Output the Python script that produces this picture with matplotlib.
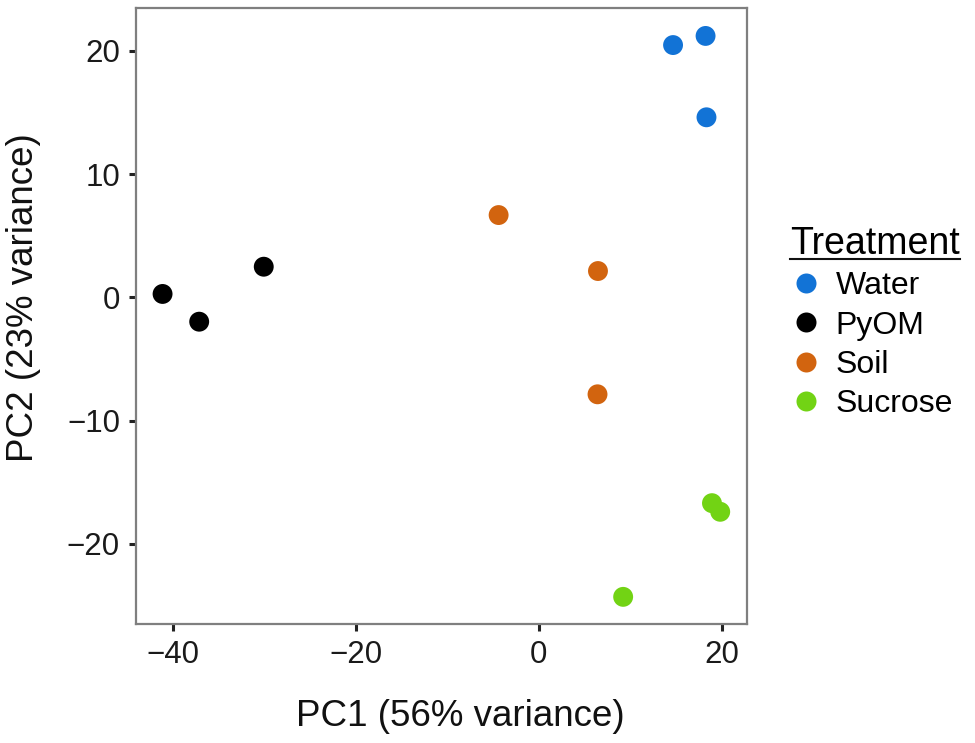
import matplotlib
matplotlib.use("Agg")
import matplotlib.pyplot as plt
from matplotlib.lines import Line2D

plt.rcParams['font.family'] = ['Liberation Sans', 'DejaVu Sans']

treatments = ["Water", "PyOM", "Soil", "Sucrose"]
colors = ["#1273d6", "#000000", "#d2640f", "#72d314"]
pc1 = {
    "Water": [14.65, 18.2, 18.3],
    "PyOM": [-41.1, -37.1, -30.05],
    "Soil": [-4.4, 6.45, 6.4],
    "Sucrose": [18.9, 19.8, 9.2],
}
pc2 = {
    "Water": [20.46, 21.2, 14.6],
    "PyOM": [0.27, -1.98, 2.48],
    "Soil": [6.67, 2.13, -7.87],
    "Sucrose": [-16.7, -17.4, -24.3],
}
xticks = [-40, -20, 0, 20]
yticks = [-20, -10, 0, 10, 20]
xlabel = "PC1 (56% variance)"
ylabel = "PC2 (23% variance)"
legend_title = "Treatment"

fig = plt.figure(figsize=(9.75, 7.43), dpi=100)
ax = fig.add_axes([0.1395, 0.1602, 0.7662 - 0.1395, 0.9888 - 0.1602])

for t, c in zip(treatments, colors):
    ax.scatter(pc1[t], pc2[t], s=205, color=c, edgecolors='none', zorder=3)

ax.set_xlim(-44.0, 22.73)
ax.set_ylim(-26.5, 23.44)
ax.set_xticks(xticks)
ax.set_yticks(yticks)
ax.set_xticklabels([str(v).replace('-', '\u2212') for v in xticks])
ax.set_yticklabels([str(v).replace('-', '\u2212') for v in yticks])
ax.tick_params(axis='both', length=5, width=2.2, color='#222222', pad=6.5,
               labelsize=22.5, labelcolor='#1a1a1a')
for sp in ax.spines.values():
    sp.set_color('#7f7f7f')
    sp.set_linewidth(1.6)

ax.set_xlabel(xlabel, fontsize=26.5, color='#111111')
ax.set_ylabel(ylabel, fontsize=26.5, color='#111111')
ax.xaxis.set_label_coords(0.53, -0.122)
ax.yaxis.set_label_coords(-0.155, 0.53)

handles = [Line2D([0], [0], marker='o', linestyle='none', markersize=14.4,
                  markerfacecolor=c, markeredgecolor='none') for c in colors]
leg = fig.legend(handles, treatments, loc='upper left',
                 bbox_to_anchor=(790 / 975, 1 - 226 / 743),
                 frameon=False, fontsize=23, title=legend_title,
                 title_fontsize=27, handletextpad=0.42, labelspacing=0.29,
                 handlelength=1.0, borderpad=0.0, borderaxespad=0.0)
leg._legend_box.align = "left"

fig.canvas.draw()
renderer = fig.canvas.get_renderer()
tb = leg.get_title().get_window_extent(renderer)
inv = fig.transFigure.inverted()
(x0, y0), (x1, y1) = inv.transform([(tb.x0, tb.y0), (tb.x1, tb.y0)])
yline = y0 + 0.004
fig.add_artist(Line2D([x0, x1], [yline, yline], transform=fig.transFigure,
                      color='#111111', linewidth=1.5))

fig.savefig("out.png", dpi=100, facecolor='white')
